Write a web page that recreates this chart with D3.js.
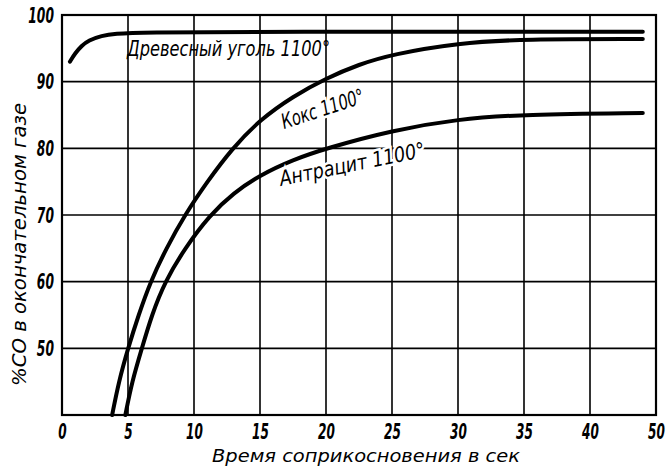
<!DOCTYPE html>
<html>
<head>
<meta charset="utf-8">
<script src="https://cdn.jsdelivr.net/npm/d3@7"></script>
<style>
  body { margin: 0; background: #fff; }
  .chart text { font-family: "DejaVu Sans", sans-serif; font-stretch: condensed; font-style: italic; fill: #000; }
</style>
</head>
<body>
<div class="chart"></div>
<script>
var svgWidth = 671;
var svgHeight = 467;

var margin = { top: 15, right: 15, bottom: 52, left: 62 };
var width = svgWidth - margin.left - margin.right;
var height = svgHeight - margin.top - margin.bottom;

// tick values and the labels printed next to them
var xTicks = [0, 5, 10, 15, 20, 25, 30, 35, 40, 45];
var xTickLabels = ["0", "5", "10", "15", "20", "25", "30", "35", "40", "50"];
var yTicks = [40, 50, 60, 70, 80, 90, 100];
var yTickLabels = ["", "50", "60", "70", "80", "90", "100"];

// curves: [seconds, %CO]
var charcoal = [[0.6, 93], [1, 94.3], [1.5, 95.4], [2, 96.2], [3, 96.9], [4, 97.2], [6, 97.4], [15, 97.5], [44, 97.5]];
var coke = [[3.8, 40], [4.3, 45], [5, 50], [5.8, 55], [6.7, 60], [7.9, 65], [9.3, 70], [11, 75], [12.9, 80],
  [15, 84.3], [17.5, 87.8], [20, 90.5], [22.5, 92.6], [25, 94.1], [30, 95.8], [35, 96.4], [44, 96.4]];
var anthracite = [[4.8, 40], [5.3, 45], [6.05, 50], [6.8, 55], [7.8, 60], [9.3, 65], [11.2, 70], [13, 73.3],
  [15, 76], [17.5, 78.3], [20, 80], [25, 82.7], [30, 84.4], [35, 85.1], [44, 85.3]];

var seriesLabels = ["Древесный уголь 1100°", "Кокс 1100°", "Антрацит 1100°"];

var svg = d3.select(".chart")
  .append("svg")
  .attr("width", svgWidth)
  .attr("height", svgHeight);

var chartGroup = svg.append("g")
  .attr("transform", `translate(${margin.left}, ${margin.top})`);

var x = d3.scaleLinear().domain([0, 45]).range([0, width]);
var y = d3.scaleLinear().domain([40, 100]).range([height, 0]);

// grid
chartGroup.append("g").selectAll("line")
  .data(xTicks.slice(1, -1))
  .enter().append("line")
  .attr("x1", d => x(d)).attr("x2", d => x(d))
  .attr("y1", 0).attr("y2", height)
  .attr("stroke", "#000").attr("stroke-width", 1.6);

chartGroup.append("g").selectAll("line")
  .data(yTicks.slice(1, -1))
  .enter().append("line")
  .attr("y1", d => y(d)).attr("y2", d => y(d))
  .attr("x1", 0).attr("x2", width)
  .attr("stroke", "#000").attr("stroke-width", 1.6);

// frame
chartGroup.append("rect")
  .attr("width", width).attr("height", height)
  .attr("fill", "none").attr("stroke", "#000").attr("stroke-width", 2.2);

// axes (labels only, tall narrow digits)
var bottomAxis = d3.axisBottom(x)
  .tickValues(xTicks)
  .tickSize(0)
  .tickPadding(9)
  .tickFormat((d, i) => xTickLabels[i]);

var leftAxis = d3.axisLeft(y)
  .tickValues(yTicks)
  .tickSize(0)
  .tickPadding(13)
  .tickFormat((d, i) => yTickLabels[i]);

var xAxis = chartGroup.append("g")
  .attr("transform", `translate(0, ${height})`)
  .call(bottomAxis);
xAxis.select(".domain").remove();
xAxis.selectAll("text")
  .attr("font-size", 21).attr("font-weight", "bold")
  .attr("transform", "scale(0.64,1)");

var yAxis = chartGroup.append("g").call(leftAxis);
yAxis.select(".domain").remove();
yAxis.selectAll("text")
  .attr("font-size", 22).attr("font-weight", "bold")
  .attr("transform", "scale(0.62,1)");

// curves
var line = d3.line()
  .x(d => x(d[0]))
  .y(d => y(d[1]))
  .curve(d3.curveBasis);

chartGroup.selectAll(".curve")
  .data([charcoal, coke, anthracite])
  .enter().append("path")
  .attr("class", "curve")
  .attr("d", line)
  .attr("fill", "none")
  .attr("stroke", "#000")
  .attr("stroke-width", 4)
  .attr("stroke-linecap", "round");

// curve labels
chartGroup.append("text")
  .attr("x", 127 - margin.left).attr("y", 56 - margin.top)
  .attr("font-size", 21)
  .attr("textLength", 203).attr("lengthAdjust", "spacingAndGlyphs")
  .text(seriesLabels[0]);

chartGroup.append("text")
  .attr("transform", `translate(${284 - margin.left}, ${129 - margin.top}) rotate(-18)`)
  .attr("font-size", 21)
  .attr("textLength", 86).attr("lengthAdjust", "spacingAndGlyphs")
  .attr("stroke", "#fff").attr("stroke-width", 5).attr("paint-order", "stroke")
  .text(seriesLabels[1]);

chartGroup.append("text")
  .attr("transform", `translate(${281 - margin.left}, ${186 - margin.top}) rotate(-11.5)`)
  .attr("font-size", 21)
  .attr("textLength", 148).attr("lengthAdjust", "spacingAndGlyphs")
  .attr("stroke", "#fff").attr("stroke-width", 5).attr("paint-order", "stroke")
  .text(seriesLabels[2]);

// axis titles
chartGroup.append("text")
  .attr("x", 212 - margin.left).attr("y", 462 - margin.top)
  .attr("font-size", 18)
  .attr("textLength", 308).attr("lengthAdjust", "spacingAndGlyphs")
  .text("Время соприкосновения в сек");

chartGroup.append("text")
  .attr("transform", `translate(${26 - margin.left}, ${386 - margin.top}) rotate(-90)`)
  .attr("font-size", 19)
  .attr("textLength", 283).attr("lengthAdjust", "spacingAndGlyphs")
  .text("%CO в окончательном газе");
</script>
</body>
</html>
